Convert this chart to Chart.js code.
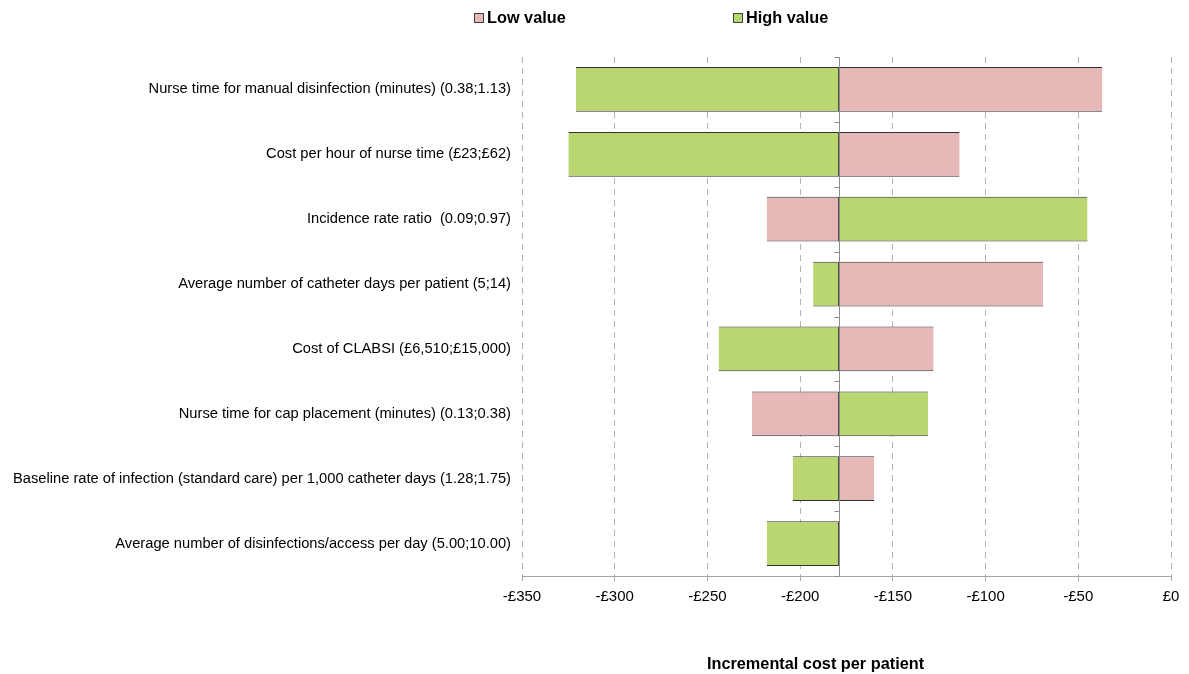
<!DOCTYPE html>
<html>
<head>
<meta charset="utf-8">
<title>Tornado diagram – incremental cost per patient</title>
<script src="https://cdn.jsdelivr.net/npm/chart.js@4.4.1/dist/chart.umd.min.js"></script>
<style>
  html, body { margin: 0; padding: 0; background: #ffffff; }
  #wrap { width: 1189px; height: 674px; position: relative; }
</style>
</head>
<body>
<div id="wrap"><canvas id="chart" width="1189" height="674"></canvas></div>
<script>
// Parameters varied in the one-way sensitivity analysis (low;high range in brackets)
const parameters = [
  'Nurse time for manual disinfection (minutes) (0.38;1.13)',
  'Cost per hour of nurse time (£23;£62)',
  'Incidence rate ratio  (0.09;0.97)',
  'Average number of catheter days per patient (5;14)',
  'Cost of CLABSI (£6,510;£15,000)',
  'Nurse time for cap placement (minutes) (0.13;0.38)',
  'Baseline rate of infection (standard care) per 1,000 catheter days (1.28;1.75)',
  'Average number of disinfections/access per day (5.00;10.00)'
];

// Base-case incremental cost per patient (£)
const baseCase = -179;

// Incremental cost when each parameter is set to its low / high value (£)
const lowValueCost  = [-37, -114, -218, -69, -128, -226, -160, -179];
const highValueCost = [-321, -325, -45, -193, -244, -131, -204, -218];

// x-axis tick values (£)
const axisMin = -350;
const axisMax = 0;
const axisStep = 50;

const seriesNames = ['Low value', 'High value'];
const lowColour = '#E6B8B7';
const highColour = '#B9D671';

const FONT = '"Liberation Sans", Arial, Helvetica, sans-serif';

// Floating bars start at the base case and run to the scenario result
const lowBars = lowValueCost.map(v => [baseCase, v]);
const highBars = highValueCost.map(v => [baseCase, v]);

function formatPounds(v) {
  if (v < 0) return '-£' + Math.abs(v);
  return '£' + v;
}

// No outline on the edge that touches the base-case line
function skipBaseEdge(ctx) {
  const raw = ctx.raw;
  if (!raw) return false;
  return raw[1] > baseCase ? 'left' : 'right';
}

// Vertical base-case line with small tick marks between categories
const baseLinePlugin = {
  id: 'baseLine',
  afterDatasetsDraw(chart) {
    const { ctx, chartArea, scales } = chart;
    const x = Math.round(scales.x.getPixelForValue(baseCase)) + 0.5;
    ctx.save();
    ctx.strokeStyle = '#8C8C8C';
    ctx.lineWidth = 1;
    ctx.beginPath();
    ctx.moveTo(x, chartArea.top);
    ctx.lineTo(x, chartArea.bottom);
    const n = chart.data.labels.length;
    for (let i = 0; i <= n; i++) {
      const y = Math.round(scales.y.getPixelForValue(i - 0.5)) + 0.5;
      ctx.moveTo(x - 5, y);
      ctx.lineTo(x, y);
    }
    ctx.stroke();
    ctx.restore();
  }
};

// Legend row across the top and the x-axis caption underneath
const annotationPlugin = {
  id: 'annotations',
  afterDraw(chart) {
    const { ctx, chartArea } = chart;
    ctx.save();
    ctx.font = 'bold 16.3px ' + FONT;
    ctx.textBaseline = 'middle';
    ctx.textAlign = 'left';
    const legendX = [474, 733];
    const legendY = 18;
    chart.data.datasets.forEach((ds, i) => {
      const bx = legendX[i];
      ctx.fillStyle = ds.backgroundColor;
      ctx.fillRect(bx + 0.5, legendY - 5 + 0.5, 9, 9);
      ctx.strokeStyle = '#404040';
      ctx.lineWidth = 1;
      ctx.strokeRect(bx + 0.5, legendY - 5 + 0.5, 9, 9);
      ctx.fillStyle = '#000000';
      ctx.fillText(ds.label, bx + 13, legendY + 1);
    });

    ctx.textAlign = 'center';
    ctx.fillStyle = '#000000';
    const cx = (chartArea.left + chartArea.right) / 2 - 31;
    ctx.fillText('Incremental cost per patient', cx, 665);
    ctx.restore();
  }
};

new Chart(document.getElementById('chart'), {
  type: 'bar',
  data: {
    labels: parameters,
    datasets: [
      {
        label: seriesNames[0],
        data: lowBars,
        backgroundColor: lowColour,
        borderColor: '#333333',
        borderWidth: 1,
        borderSkipped: skipBaseEdge,
        grouped: false,
        barPercentage: 0.69,
        categoryPercentage: 1.0
      },
      {
        label: seriesNames[1],
        data: highBars,
        backgroundColor: highColour,
        borderColor: '#333333',
        borderWidth: 1,
        borderSkipped: skipBaseEdge,
        grouped: false,
        barPercentage: 0.69,
        categoryPercentage: 1.0
      }
    ]
  },
  options: {
    indexAxis: 'y',
    responsive: false,
    animation: false,
    devicePixelRatio: 1,
    layout: { padding: { top: 57, right: 18, left: 0, bottom: 0 } },
    plugins: {
      legend: { display: false },
      tooltip: { enabled: false },
      title: { display: false }
    },
    scales: {
      x: {
        type: 'linear',
        min: axisMin,
        max: axisMax,
        ticks: {
          stepSize: axisStep,
          callback: v => formatPounds(v),
          color: '#000000',
          font: { family: FONT, size: 15 },
          padding: 7
        },
        grid: {
          color: '#B3B3B3',
          lineWidth: 1,
          drawTicks: true,
          tickLength: 5,
          tickColor: '#A6A6A6',
          tickBorderDash: []
        },
        border: {
          display: true,
          color: '#A6A6A6',
          width: 1,
          dash: [6, 5]
        },
        afterFit(scale) { scale.height = 98; }
      },
      y: {
        type: 'category',
        offset: true,
        grid: { display: false, drawTicks: false },
        border: { display: false },
        ticks: {
          color: '#000000',
          font: { family: FONT, size: 14.7 },
          padding: 11
        },
        afterFit(scale) { scale.width = 522; }
      }
    }
  },
  plugins: [baseLinePlugin, annotationPlugin]
});
</script>
</body>
</html>
